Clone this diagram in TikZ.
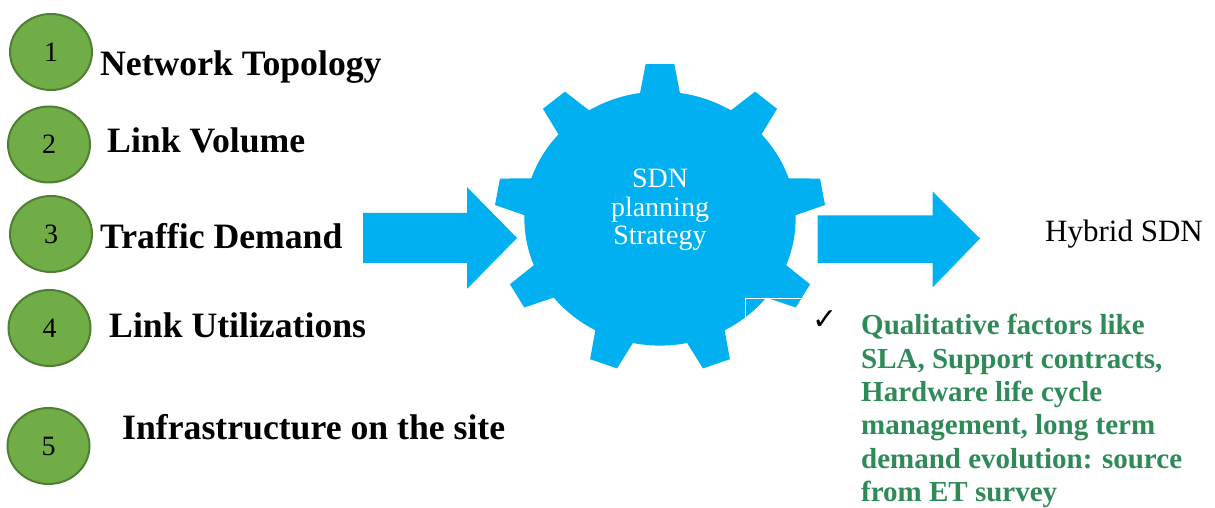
\documentclass[tikz,border=0pt]{standalone}
\usepackage{fontspec}
\setmainfont{Liberation Serif}
\newfontfamily\dejavu{DejaVu Sans}
\usetikzlibrary{shapes.geometric}
\definecolor{gearblue}{HTML}{00B0F0}
\definecolor{numgreen}{HTML}{70AD47}
\definecolor{numedge}{HTML}{507E32}
\definecolor{qualgreen}{HTML}{2E8B57}
\begin{document}
\begin{tikzpicture}[x=1pt,y=1pt,
  numcirc/.style={ellipse, fill=numgreen, draw=numedge, line width=2pt,
    minimum width=82, minimum height=76, inner sep=0,
    font=\fontsize{28}{30}\selectfont},
  lbl/.style={anchor=base west, inner sep=0, font=\fontsize{35.7}{40}\selectfont\bfseries},
  gtxt/.style={anchor=base, inner sep=0, text=white, font=\fontsize{28}{30}\selectfont},
  qual/.style={anchor=base west, inner sep=0, text=qualgreen, font=\fontsize{29}{33}\selectfont\bfseries},
  blockarrow/.style={fill=gearblue}]
\useasboundingbox (0,0) rectangle (1215,508);

% numbered circles and labels
\node[numcirc] (c1) at (51,456) {1};
\node[numcirc] (c2) at (49,363.5) {2};
\node[numcirc] (c3) at (51,274) {3};
\node[numcirc] (c4) at (49.5,180) {4};
\node[numcirc] (c5) at (48.5,62) {5};
\node[lbl] (l1) at (100,432) {Network Topology};
\node[lbl] (l2) at (107,355) {Link Volume};
\node[lbl] (l3) at (100,259) {Traffic Demand};
\node[lbl] (l4) at (109,170) {Link Utilizations};
\node[lbl] (l5) at (122,68) {Infrastructure on the site};

% block arrows
\fill[blockarrow] (363,245) -- (467,245) -- (467,321) -- (517,270) -- (467,219)
  -- (467,295) -- (363,295) -- cycle;
\fill[blockarrow] (817.5,245) -- (932.5,245) -- (932.5,220.5) -- (980,269.5)
  -- (932.5,316.5) -- (932.5,292.5) -- (817.5,292.5) -- cycle;

% gear
\begin{scope}[shift={(660,289.4)}, xscale=1.068]
\fill[gearblue] (81.53:127)
  \foreach \a in {90,130,...,410} {
    -- (\a-8.47:127) -- (\a-4.96:155.1) -- (\a+4.96:155.1) -- (\a+8.47:127)
    arc[start angle=\a+8.47, end angle=\a+31.53, radius=127]
  } -- cycle;
\end{scope}

% white box corner on gear
\coordinate (wb1) at (745.7,186);
\coordinate (wb2) at (745.7,209.7);
\coordinate (wb3) at (802,209.7);
\draw[white, line width=1.3pt] (wb1) -- (wb2) -- (wb3);

% gear text
\node[gtxt] (s1) at (660,320) {SDN};
\node[gtxt] (s2) at (660,291.5) {planning};
\node[gtxt] (s3) at (660,263) {Strategy};

% output
\node[anchor=base west, inner sep=0, font=\fontsize{31}{34}\selectfont] (hy) at (1045,266.5) {Hybrid SDN};

% qualitative factors
\node[anchor=base west, inner sep=0, font=\dejavu\fontsize{30}{32}\selectfont] (chk) at (812,178) {✓};
\node[qual] (q1) at (861,173) {Qualitative factors like};
\node[qual] (q2) at (861,139.7) {SLA, Support contracts,};
\node[qual] (q3) at (861,106.4) {Hardware life cycle};
\node[qual] (q4) at (861,73.1) {management, long term};
\node[qual] (q5) at (861,39.8) {demand evolution: source};
\node[qual] (q6) at (861,6.5) {from ET survey};
\end{tikzpicture}
\end{document}
